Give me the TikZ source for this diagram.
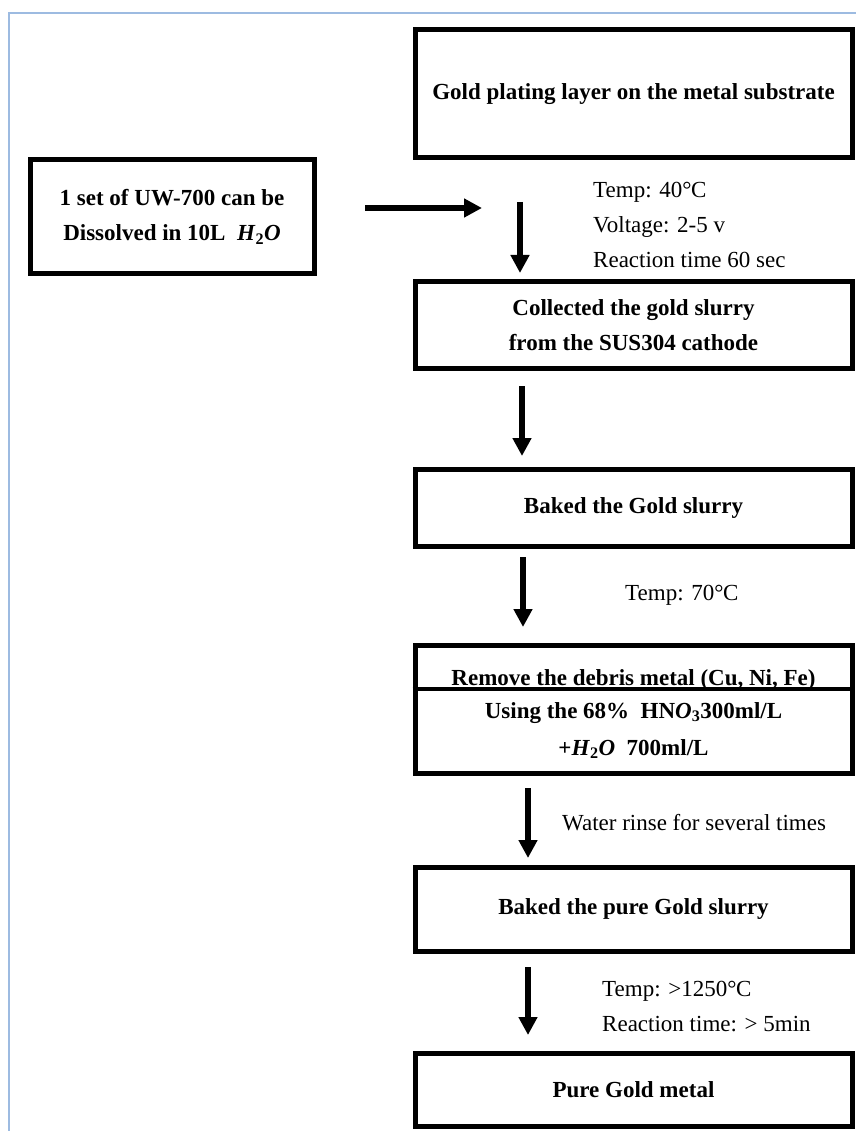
\documentclass[tikz,border=0pt]{standalone}
\usepackage{fontspec}
\setmainfont{Liberation Serif}
\usetikzlibrary{arrows.meta}
\definecolor{frameblue}{RGB}{157,187,225}
\newcommand{\degC}{°\kern-0.5pt C}
\newcommand{\water}{\textit{H}\textsubscript{2}\textit{O}}
\tikzset{
  stepbox/.style={draw=black, line width=5pt, fill=white, rectangle, inner sep=0pt,
    minimum width=437pt, align=center, font=\fontsize{23}{35}\selectfont\bfseries},
  flowarrow/.style={line width=6pt, -{Triangle[length=18pt,width=18pt]}},
  note/.style={anchor=west, inner sep=0pt, align=left, font=\fontsize{23}{35}\selectfont},
  boldtext/.style={inner sep=0pt, align=center, font=\fontsize{23}{35}\selectfont\bfseries}
}
\begin{document}
\begin{tikzpicture}[x=1pt,y=-1pt]
\useasboundingbox[fill=white] (0,0) rectangle (856,1131);
% page frame
\draw[frameblue, line width=2pt] (9,1131) -- (9,13) -- (856,13);

% process boxes
\node[stepbox, minimum height=128pt] (plating) at (633.5,94) {Gold plating layer on the metal substrate};
\node[stepbox, minimum width=284pt, minimum height=114pt] (solution) at (172,217)
  {1 set of UW-700 can be\\Dissolved in 10L \ \water};
\node[stepbox, minimum height=86pt] (collect) at (633.5,325) {Collected the gold slurry\\from the SUS304 cathode};
\node[stepbox, minimum height=77pt] (bake) at (633.5,507.5) {Baked the Gold slurry};
\node[stepbox, minimum height=128pt] (remove) at (633.5,709) {};
\draw[line width=4pt] (remove.west |- 0,689) -- (remove.east |- 0,689);
\node[boldtext, anchor=base] (removeA) at (633.5,685) {Remove the debris metal (Cu, Ni, Fe)};
\node[boldtext, anchor=base] (removeB) at (633.5,718) {Using the 68\% \ HN\textit{O}\textsubscript{3}300ml/L};
\node[boldtext, anchor=base] (removeC) at (633.5,755) {+\water\ \ 700ml/L};
\node[stepbox, minimum height=84pt] (bakepure) at (633.5,909) {Baked the pure Gold slurry};
\node[stepbox, minimum height=73pt] (pure) at (633.5,1090) {Pure Gold metal};

% arrow ends
\coordinate (h0) at (365,208);  \coordinate (h1) at (482,208);
\coordinate (v1a) at (520,202); \coordinate (v1b) at (520,273);
\coordinate (v2a) at (522,386); \coordinate (v2b) at (522,456);
\coordinate (v3a) at (523,557); \coordinate (v3b) at (523,627);
\coordinate (v4a) at (528,788); \coordinate (v4b) at (528,858);
\coordinate (v5a) at (528,967); \coordinate (v5b) at (528,1035);

\draw[flowarrow] (h0) -- (h1);
\draw[flowarrow] (v1a) -- (v1b);
\draw[flowarrow] (v2a) -- (v2b);
\draw[flowarrow] (v3a) -- (v3b);
\draw[flowarrow] (v4a) -- (v4b);
\draw[flowarrow] (v5a) -- (v5b);

% process conditions
\node[note] (cond1) at (593,225) {Temp: 40\degC\\Voltage: 2-5 v\\Reaction time 60 sec};
\node[note] (cond2) at (625,595) {Temp: 70\degC};
\node[note] (cond3) at (562,823) {Water rinse for several times};
\node[note] (cond4) at (602,1007) {Temp: >1250\degC\\Reaction time: > 5min};
\end{tikzpicture}
\end{document}
